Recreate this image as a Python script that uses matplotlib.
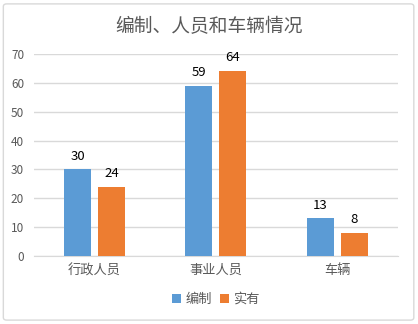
import matplotlib.pyplot as plt
import numpy as np
from matplotlib.patches import FancyBboxPatch

plt.rcParams['font.family'] = ['Noto Sans CJK SC', 'DejaVu Sans']

categories = ['行政人员', '事业人员', '车辆']
series_names = ['编制', '实有']
planned = [30, 59, 13]
actual = [24, 64, 8]
colors = ['#5B9BD5', '#ED7D31']
text_gray = '#595959'

fig = plt.figure(figsize=(4.18, 3.24), dpi=100)
ax = fig.add_axes([0.081, 0.21, 0.871, 0.623])

# rounded frame around the whole chart
frame = FancyBboxPatch((0.008, 0.012), 0.982, 0.976,
                       boxstyle='round,pad=0,rounding_size=0.008',
                       transform=fig.transFigure, facecolor='none',
                       edgecolor='#D9D9D9', linewidth=1.0)
fig.patches.append(frame)

x = np.arange(len(categories))
width = 0.222
offset = 0.14
for i, (name, vals, color) in enumerate(zip(series_names, [planned, actual], colors)):
    rects = ax.bar(x + (i * 2 - 1) * offset, vals, width, color=color,
                   label=name, zorder=3)
    ax.bar_label(rects, padding=5, fontsize=9.5, color='black')

ax.set_xlim(-0.5, 2.5)
ax.set_ylim(0, 70)
ax.set_yticks(range(0, 71, 10))
ax.set_xticks(x)
ax.set_xticklabels(categories, fontsize=9.5, color=text_gray)
ax.tick_params(axis='y', labelsize=8.5, colors=text_gray, length=0, pad=7)
ax.tick_params(axis='x', length=0, pad=6)
ax.grid(axis='y', color='#D9D9D9', linewidth=1, zorder=0)
for side in ['top', 'right', 'left']:
    ax.spines[side].set_visible(False)
ax.spines['bottom'].set_color('#D9D9D9')

fig.text(0.5, 0.917, '编制、人员和车辆情况', ha='center', va='center',
         fontsize=13.5, color=text_gray)

ax.legend(loc='center', bbox_to_anchor=(0.5, -0.215), ncol=2, frameon=False,
          fontsize=9.5, handlelength=0.7, handleheight=0.7, handletextpad=0.3,
          columnspacing=0.6, labelcolor=text_gray)

fig.savefig('out.png', dpi=100)
